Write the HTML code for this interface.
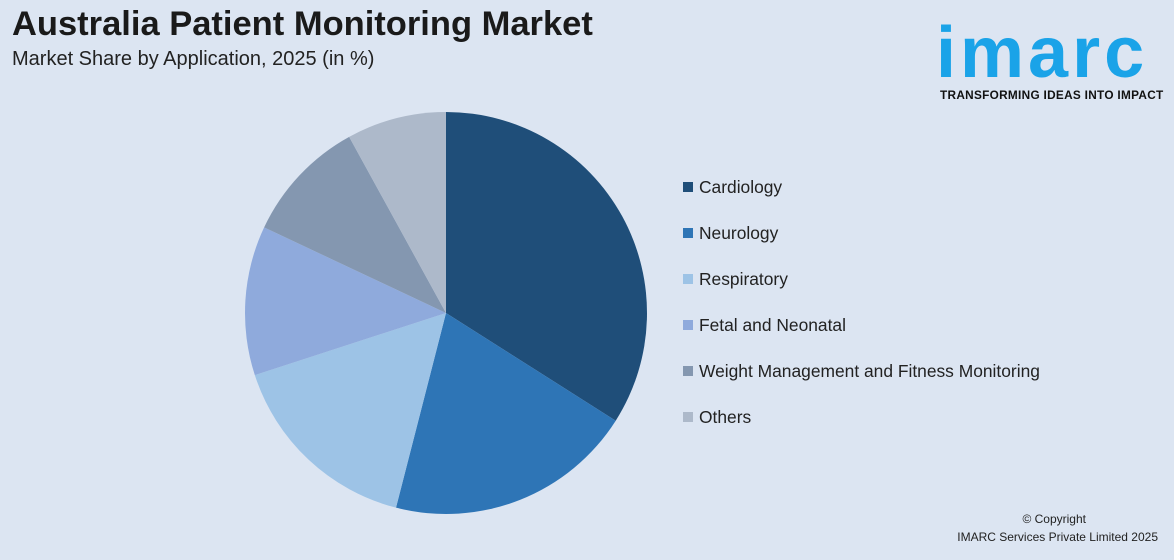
<!DOCTYPE html>
<html><head><meta charset="utf-8"><style>
body{margin:0;width:1174px;height:560px;background:#dce5f2;font-family:"Liberation Sans",sans-serif;position:relative;overflow:hidden}
.t{position:absolute;left:12px;top:5px;font-size:34.5px;font-weight:bold;color:#1a1a1a}
.s{position:absolute;left:12px;top:48px;font-size:20px;color:#222}
.logo{position:absolute;left:936px;top:22px;font-size:72px;font-weight:bold;color:#1aa3e8;letter-spacing:4px;line-height:62px}
.tag{position:absolute;left:940px;top:88px;font-size:11.8px;font-weight:bold;color:#111;letter-spacing:0.3px}
.leg{position:absolute;left:683px;font-size:17.4px;color:#222}
.leg i{display:inline-block;width:10px;height:10px;margin-right:6px;vertical-align:1px}
.c{position:absolute;right:16px;font-size:12px;color:#222;text-align:center}
</style></head><body>
<div class="t">Australia Patient Monitoring Market</div>
<div class="s">Market Share by Application, 2025 (in %)</div>
<div class="logo">imarc</div>
<div class="tag">TRANSFORMING IDEAS INTO IMPACT</div>
<svg id="pie" width="1174" height="560" style="position:absolute;left:0;top:0"></svg>
<div id="legend"></div>
<div class="c" style="top:512px;right:88px">© Copyright</div>
<div class="c" style="top:530px">IMARC Services Private Limited 2025</div>
<script>
const categories=["Cardiology","Neurology","Respiratory","Fetal and Neonatal","Weight Management and Fitness Monitoring","Others"];
const shares=[34,20,16,12,10,8];
const colors=["#1f4e79","#2e75b6","#9dc3e6","#8faadc","#8497b0","#adb9ca"];
const cx=446,cy=313,r=201;
const svg=document.getElementById('pie');
const total=shares.reduce((a,b)=>a+b,0);
let a0=0;
function pt(a){return [cx+r*Math.sin(a),cy-r*Math.cos(a)];}
shares.forEach((v,i)=>{
  const a1=a0+v/total*2*Math.PI;
  const p0=pt(a0),p1=pt(a1);
  const large=(a1-a0)>Math.PI?1:0;
  const p=document.createElementNS('http://www.w3.org/2000/svg','path');
  p.setAttribute('d',`M${cx},${cy}L${p0[0]},${p0[1]}A${r},${r} 0 ${large} 1 ${p1[0]},${p1[1]}Z`);
  p.setAttribute('fill',colors[i]);
  
  
  svg.appendChild(p);
  a0=a1;
});
const leg=document.getElementById('legend');
categories.forEach((c,i)=>{
  const d=document.createElement('div');
  d.className='leg';
  d.style.top=(177+i*46)+'px';
  d.innerHTML=`<i style="background:${colors[i]}"></i>${c}`;
  
  
  leg.appendChild(d);
});
</script>
</body></html>
